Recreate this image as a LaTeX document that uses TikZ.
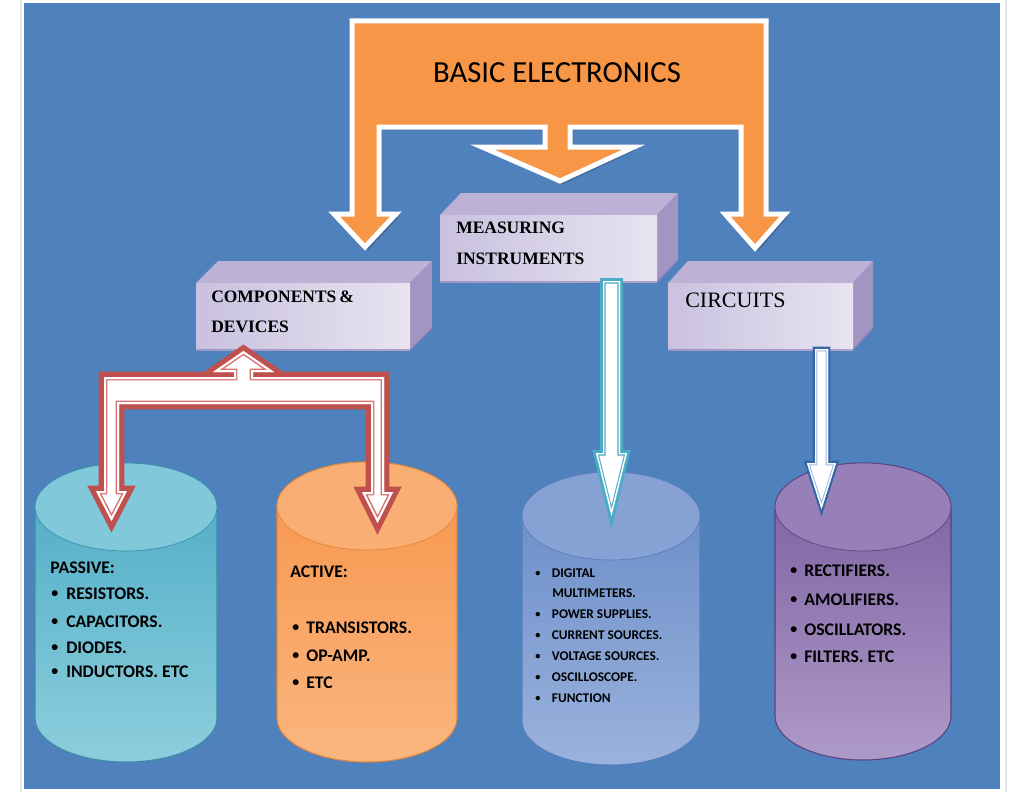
\documentclass[tikz,border=0pt]{standalone}
\usepackage{graphicx}
\usepackage{fontspec}
\setmainfont{Liberation Serif}
\newfontfamily\calfont{Carlito}
\newfontfamily\serfont{Liberation Serif}
\definecolor{bgblue}{HTML}{4F81BD}
\definecolor{orng}{HTML}{F79646}
\definecolor{boxtop}{HTML}{BCB2D6}
\definecolor{boxside}{HTML}{A195C4}
\definecolor{boxfa}{HTML}{C9C1DF}
\definecolor{boxfb}{HTML}{E8E4F1}
\definecolor{boxedge}{HTML}{8C80B6}
\definecolor{redar}{HTML}{C0504D}
\definecolor{redin}{HTML}{D8706D}
\definecolor{tealar}{HTML}{4BACC6}
\definecolor{bluear}{HTML}{3566A8}
\definecolor{bluein}{HTML}{9DB9E0}
% cylinder colours
\definecolor{teatop}{HTML}{4AAAC4}\definecolor{teamid}{HTML}{3FA2BD}\definecolor{teabot}{HTML}{8DCEDD}
\definecolor{teaell}{HTML}{80C8DA}\definecolor{tealine}{HTML}{3A8FA8}
\definecolor{orgtop}{HTML}{F7944A}\definecolor{orgmid}{HTML}{F58B3A}\definecolor{orgbot}{HTML}{FAB67F}
\definecolor{orgell}{HTML}{F9AE74}\definecolor{orgline}{HTML}{E4853A}
\definecolor{blutop}{HTML}{6689C6}\definecolor{blumid}{HTML}{5F84C4}\definecolor{blubot}{HTML}{9AB3DD}
\definecolor{bluell}{HTML}{86A2D5}\definecolor{bluline}{HTML}{5A7DBB}
\definecolor{purtop}{HTML}{7A5D9E}\definecolor{purmid}{HTML}{74579A}\definecolor{purbot}{HTML}{AE9AC8}
\definecolor{purell}{HTML}{977FB8}\definecolor{purline}{HTML}{5A4180}
\newcommand\cyl[6]{%
 \shade[top color=#6top, middle color=#6mid, bottom color=#6bot, draw=#6line, line width=0.8pt]
   (#1-#3,#2) -- (#1-#3,#4) arc[start angle=180,end angle=0,x radius=#3,y radius=#5]
   -- (#1+#3,#2) arc[start angle=0,end angle=-180,x radius=#3,y radius=#5] -- cycle;
 \filldraw[fill=#6ell, draw=#6line, line width=0.5pt] (#1,#2) ellipse[x radius=#3, y radius=#5];
}
\newcommand\cuboid[6]{%
 \fill[boxtop] (#1,#2) -- (#1+#5,#2-#6) -- (#3+#5,#2-#6) -- (#3,#2) -- cycle;
 \fill[boxside] (#3,#2) -- (#3+#5,#2-#6) -- (#3+#5,#4-#6) -- (#3,#4) -- cycle;
 \shade[left color=boxfa, right color=boxfb] (#1,#2) rectangle (#3,#4);
 \draw[boxedge, line width=0.8pt] (#1,#4) -- (#3,#4) -- (#3+#5,#4-#6);
}
\newcommand\blockarrow[7]{% outer colour, outer width, inner colour, inner band, white band, fill, path
 \draw[#1, line width=#2, line join=miter] #7;
 \fill[#6] #7;
 \begin{scope}
  \clip #7;
  \draw[#3, line width=#4, line join=miter] #7;
  \draw[#6, line width=#5, line join=miter] #7;
 \end{scope}
}
\newcommand\bul[1]{\makebox[#1][l]{\raisebox{0.07em}{\scalebox{0.78}{•}}}}
\tikzset{
 titletext/.style={font=\calfont\fontsize{23}{27}\selectfont, anchor=base, inner sep=0pt},
 boxtext/.style={font=\serfont\bfseries\fontsize{13.1}{15}\selectfont, anchor=base west, inner sep=0pt},
 circtext/.style={font=\serfont\fontsize{16.5}{19}\selectfont, anchor=base west, inner sep=0pt},
 cyltext/.style={font=\calfont\bfseries\fontsize{13.3}{16}\selectfont, anchor=base west, inner sep=0pt},
 smalltext/.style={font=\calfont\bfseries\fontsize{10}{12}\selectfont, anchor=base west, inner sep=0pt},
}
\begin{document}
\begin{tikzpicture}[x=0.75pt,y=-0.75pt]
\useasboundingbox (0,0) rectangle (1020,792);
\fill[white] (0,0) rectangle (1020,792);
\draw[black!10, line width=1pt] (21,0) -- (21,792);
\draw[black!10, line width=1pt] (1006,0) -- (1006,792);
\fill[bgblue] (24,3) rectangle (1000,789);

% cylinders
\cyl{126}{507}{91}{718}{44}{tea}
\cyl{367}{506}{90}{718}{44}{org}
\cyl{611}{516}{89}{721}{44}{blu}
\cyl{863}{507}{88}{716}{44}{pur}

% boxes
\cuboid{196}{283}{410}{350}{22}{22}
\cuboid{440}{215}{657}{282}{21}{22}
\cuboid{668}{283}{853}{350}{20}{22}

% top orange shape
\fill[black, opacity=0.2] (355,24) -- (769,24) -- (769,217) -- (788,217) -- (758,251) -- (728,217) -- (744,217) -- (744,130) -- (573,130) -- (573,150) -- (636,150) -- (563,184) -- (485,150) -- (548,150) -- (548,130) -- (382,130) -- (382,217) -- (399,217) -- (368,250) -- (337,217) -- (355,217) -- cycle;
\filldraw[fill=orng, draw=white, line width=3.75pt, line join=miter]
 (352,21) -- (766,21) -- (766,214) -- (785,214) -- (755,248) -- (725,214) -- (741,214)
 -- (741,127) -- (570,127) -- (570,147) -- (634,147) -- (560,181) -- (482,147) -- (545,147)
 -- (545,127) -- (379,127) -- (379,214) -- (396,214) -- (365,247) -- (334,214) -- (352,214) -- cycle;

% red arrow from components & devices
\blockarrow{redar}{8pt}{redin}{5.2pt}{3pt}{white}
 {(104,377) -- (234,377) -- (234,372) -- (213,372) -- (243.5,351) -- (274,372) -- (253,372)
  -- (253,377) -- (384,377) -- (384,492) -- (393,492) -- (377.5,523) -- (362,492) -- (371,492)
  -- (371,404) -- (119,404) -- (119,491) -- (127,491) -- (111.5,521) -- (96,491) -- (104,491) -- cycle}

% teal arrow from measuring instruments
\blockarrow{tealar}{4.5pt}{tealar}{3.8pt}{2.2pt}{white}
 {(603,281) -- (620,281) -- (620,453) -- (627,453) -- (611.5,516) -- (596,453) -- (603,453) -- cycle}

% blue arrow from circuits
\blockarrow{bluear}{3.5pt}{bluein}{3.5pt}{2pt}{white}
 {(815,349) -- (828,349) -- (828,463) -- (836,463) -- (821.5,509) -- (807,463) -- (815,463) -- cycle}

% texts
\node[titletext] (title) at (557,83) {BASIC ELECTRONICS};
\node[boxtext] (comp1) at (211,302) {COMPONENTS\,\&};
\node[boxtext] (comp2) at (211,332) {DEVICES};
\node[boxtext] (meas1) at (456,233) {MEASURING};
\node[boxtext] (meas2) at (456,264) {INSTRUMENTS};
\node[circtext] (circ) at (685,307) {CIRCUITS};

\node[cyltext] (pas) at (50,573) {PASSIVE:};
\node[cyltext] (pas1) at (51,599) {\bul{11.25pt}RESISTORS.};
\node[cyltext] (pas2) at (51,627) {\bul{11.25pt}CAPACITORS.};
\node[cyltext] (pas3) at (51,653) {\bul{11.25pt}DIODES.};
\node[cyltext] (pas4) at (51,677) {\bul{11.25pt}INDUCTORS. ETC};

\node[cyltext] (act) at (290,577) {ACTIVE:};
\node[cyltext] (act1) at (292,633) {\bul{10.5pt}TRANSISTORS.};
\node[cyltext] (act2) at (292,661) {\bul{10.5pt}OP-AMP.};
\node[cyltext] (act3) at (292,688) {\bul{10.5pt}ETC};

\node[smalltext] (m1) at (535,577) {\bul{12.5pt}DIGITAL};
\node[smalltext] (m1b) at (552,597) {MULTIMETERS.};
\node[smalltext] (m2) at (535,618) {\bul{12.5pt}POWER SUPPLIES.};
\node[smalltext] (m3) at (535,639) {\bul{12.5pt}CURRENT SOURCES.};
\node[smalltext] (m4) at (535,660) {\bul{12.5pt}VOLTAGE SOURCES.};
\node[smalltext] (m5) at (535,681) {\bul{12.5pt}OSCILLOSCOPE.};
\node[smalltext] (m6) at (535,702) {\bul{12.5pt}FUNCTION};

\node[cyltext] (c1) at (790,576) {\bul{10.5pt}RECTIFIERS.};
\node[cyltext] (c2) at (790,605) {\bul{10.5pt}AMOLIFIERS.};
\node[cyltext] (c3) at (790,635) {\bul{10.5pt}OSCILLATORS.};
\node[cyltext] (c4) at (790,662) {\bul{10.5pt}FILTERS. ETC};
\end{tikzpicture}
\end{document}
